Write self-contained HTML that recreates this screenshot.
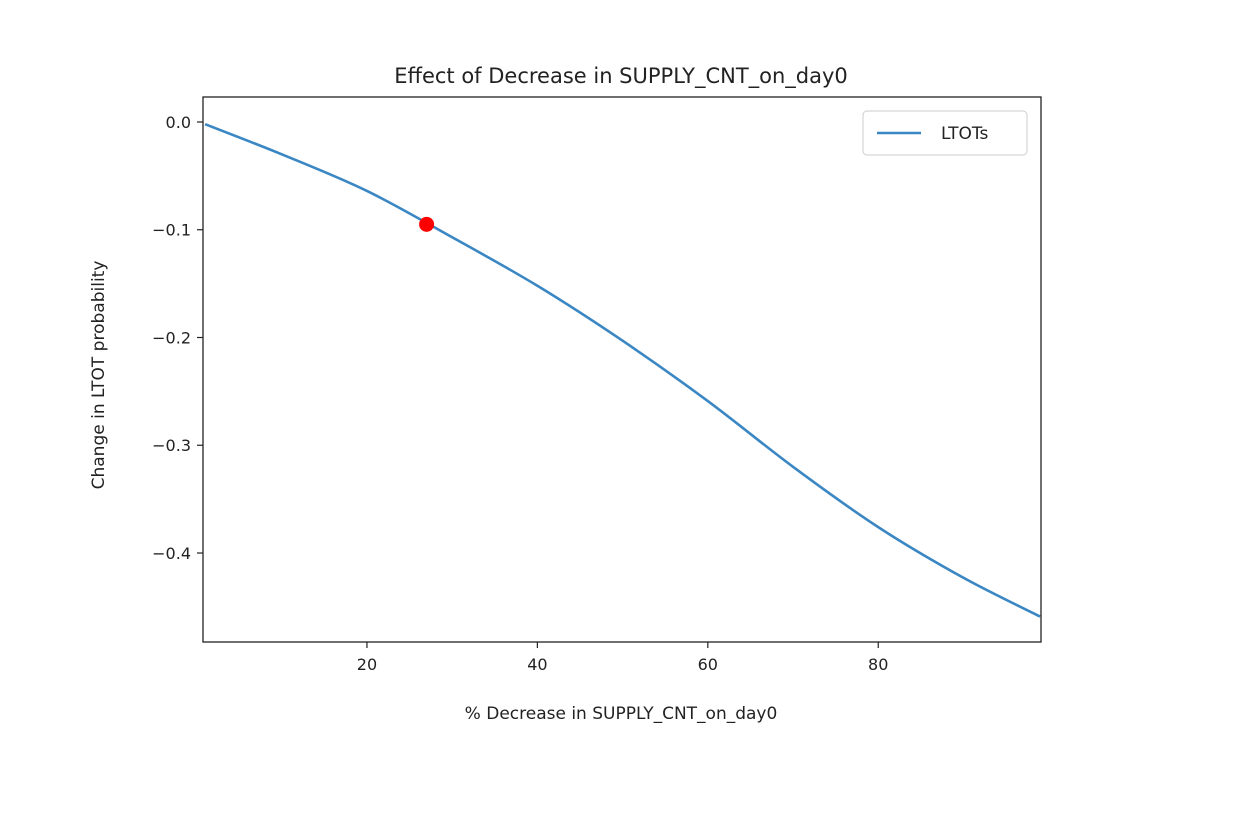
<!DOCTYPE html>
<html><head><meta charset="utf-8"><style>
body{margin:0;background:#fff;}
svg{display:block;font-family:"DejaVu Sans","Liberation Sans",sans-serif;}
</style></head><body>
<svg id="chart" width="1259" height="831">
<text x="621" y="83" font-size="21" text-anchor="middle" fill="#222">Effect of Decrease in SUPPLY_CNT_on_day0</text>
<g id="plot"></g>
<text x="621" y="719" font-size="17" text-anchor="middle" fill="#222">% Decrease in SUPPLY_CNT_on_day0</text>
<text transform="translate(104,375) rotate(-90)" font-size="17" text-anchor="middle" fill="#222">Change in LTOT probability</text>
</svg>
<script>
const xValues=[1,10,20,30,40,50,60,70,80,90,99];
const yValues=[-0.002,-0.030,-0.064,-0.107,-0.152,-0.203,-0.259,-0.320,-0.376,-0.423,-0.459];
const xTicks=[20,40,60,80];
const yTicks=[0.0,-0.1,-0.2,-0.3,-0.4];
const yTickLabels=["0.0","\u22120.1","\u22120.2","\u22120.3","\u22120.4"];
const markerX=[27];
const markerY=[-0.095];
const L=203,R=1041,T=97,B=642;
const x0=0.76,x1=99.1,y0=-0.4826,y1=0.0232;
const sx=v=>L+(v-x0)/(x1-x0)*(R-L);
const sy=v=>B-(v-y0)/(y1-y0)*(B-T);
const NS="http://www.w3.org/2000/svg";
const g=document.getElementById('plot');
function mk(t,a){const e=document.createElementNS(NS,t);for(const k in a)e.setAttribute(k,a[k]);g.appendChild(e);return e;}
xTicks.forEach(v=>{
 const l=mk('line',{x1:sx(v),x2:sx(v),y1:B,y2:B+6,stroke:'#222','stroke-width':1.2});
 
 
 const t=mk('text',{x:sx(v),y:B+28,'font-size':16,'text-anchor':'middle',fill:'#222'});t.textContent=v;
 
 
});
yTicks.forEach((v,i)=>{
 const l=mk('line',{x1:L-6,x2:L,y1:sy(v),y2:sy(v),stroke:'#222','stroke-width':1.2});
 
 
 const t=mk('text',{x:L-12,y:sy(v)+6,'font-size':16,'text-anchor':'end',fill:'#222'});t.textContent=yTickLabels[i];
 
 
});
const P=xValues.map((v,i)=>[sx(v),sy(yValues[i])]);
let d=`M${P[0][0]},${P[0][1]}`;
for(let i=0;i<P.length-1;i++){
 const p0=P[Math.max(0,i-1)],p1=P[i],p2=P[i+1],p3=P[Math.min(P.length-1,i+2)];
 d+=` C${p1[0]+(p2[0]-p0[0])/6},${p1[1]+(p2[1]-p0[1])/6} ${p2[0]-(p3[0]-p1[0])/6},${p2[1]-(p3[1]-p1[1])/6} ${p2[0]},${p2[1]}`;
}
const line=mk('path',{d,fill:'none',stroke:'#3a87c4','stroke-width':2.6});


markerX.forEach((v,i)=>{
 const c=mk('circle',{cx:sx(v),cy:sy(markerY[i]),r:7.5,fill:'#ff0000'});
 
 
});
const fr=mk('rect',{x:L,y:T,width:R-L,height:B-T,fill:'none',stroke:'#222','stroke-width':1.3});


const lg=mk('rect',{x:863,y:111,width:164,height:44,rx:4,fill:'#fff',stroke:'#ccc','stroke-width':1});


const ll=mk('line',{x1:877,x2:921,y1:133,y2:133,stroke:'#3a87c4','stroke-width':2.6});


const lt=mk('text',{x:941,y:139,'font-size':17,fill:'#222'});lt.textContent='LTOTs';


</script>
</body></html>
